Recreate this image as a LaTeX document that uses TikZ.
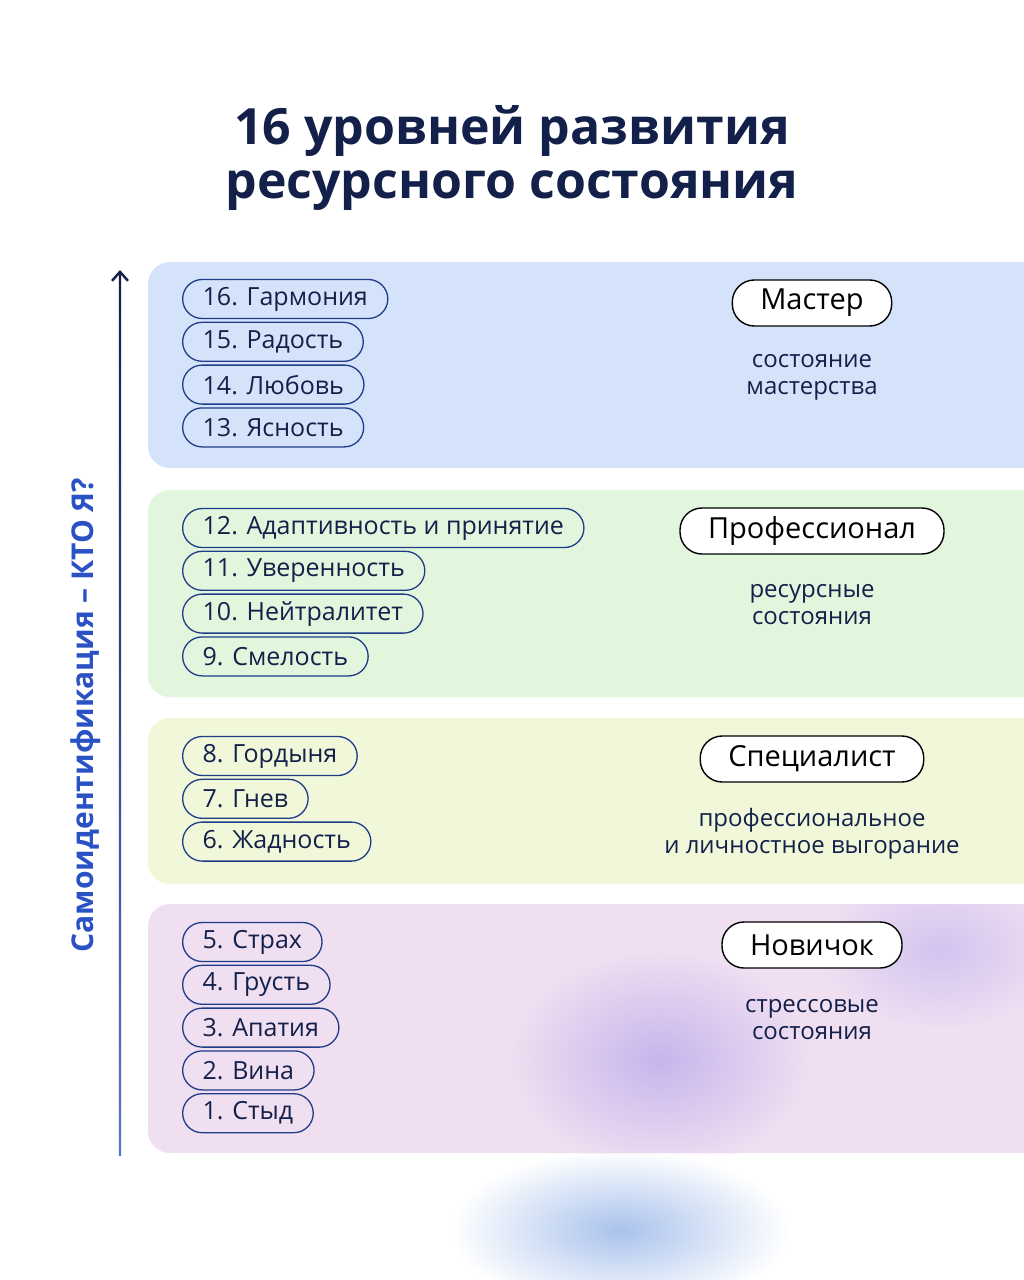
\documentclass[tikz,border=0pt]{standalone}
\usepackage{fontspec}
\setmainfont{Open Sans}
\usetikzlibrary{positioning,arrows.meta}
\definecolor{navy}{HTML}{13204A}
\definecolor{pillline}{HTML}{1F3C88}
\definecolor{axisblue}{HTML}{2B52C4}
\definecolor{bandblue}{HTML}{D5E3FA}
\definecolor{bandgreen}{HTML}{E2F6DD}
\definecolor{bandyellow}{HTML}{F1F8D9}
\definecolor{bandpink}{HTML}{F0DEF1}
\definecolor{blob}{HTML}{C6B5EC}
\definecolor{glow}{HTML}{A9C2EC}
\begin{document}
\begin{tikzpicture}[x=1pt,y=-1pt,
  band/.style={rounded corners=22pt},
  pill/.style={shape=rectangle, rounded corners=19.5pt, draw=pillline, line width=1.3pt,
    minimum height=39pt, inner xsep=20pt, inner ysep=0pt, text=navy, font=\fontsize{25}{27}\selectfont},
  level/.style={shape=rectangle, rounded corners=22pt, draw=black, line width=1.4pt, fill=white,
    minimum height=46pt, inner xsep=28pt, inner ysep=0pt, text=black, font=\fontsize{29}{32}\selectfont},
  note/.style={align=center, text=navy, font=\fontsize{24}{27}\selectfont}]
\useasboundingbox (0,0) rectangle (1024,1280);
\fill[white] (0,0) rectangle (1024,1280);
% bottom glow
\shade[inner color=glow, outer color=white] (620,1230) ellipse (170 and 80);
% title
\node (title) [text=navy, align=center, font=\fontsize{50}{54}\selectfont\bfseries] at (512,158)
  {16 уровней развития\\ресурсного состояния};
% bands
\fill[bandblue, band] (148,262) rectangle (1060,468);
\fill[bandgreen, band] (148,490) rectangle (1060,697);
\fill[bandyellow, band] (148,718) rectangle (1060,884);
\fill[bandpink, band] (148,904) rectangle (1060,1153);
\begin{scope}
  \clip[band] (148,904) rectangle (1060,1153);
  \shade[inner color=blob, outer color=bandpink] (660,1060) ellipse (150 and 110);
  \shade[inner color=blob!80, outer color=bandpink] (940,950) ellipse (120 and 80);
\end{scope}
% axis
\shade[bottom color=axisblue!80, top color=navy] (118.8,1155) rectangle (121.2,275);
\draw[navy, line width=2.4pt, -{Straight Barb[length=9pt,width=16pt]}] (120,290) -- (120,270);
\node (axis) [rotate=90, text=axisblue, font=\fontsize{30}{32}\selectfont\bfseries] at (86,715)
  {Самоидентификация – КТО Я?};
% master
\node (p16) [pill, anchor=west] at (182,299) {16. Гармония};
\node (p15) [pill, below=2.5pt of p16.south west, anchor=north west] {15. Радость};
\node (p14) [pill, below=2.5pt of p15.south west, anchor=north west] {14. Любовь};
\node (p13) [pill, below=2.5pt of p14.south west, anchor=north west] {13. Ясность};
\node (master) [level] at (812,303) {Мастер};
\node (masterNote) [note] at (812,377) {состояние\\мастерства};
% professional
\node (p12) [pill, anchor=west] at (182,528) {12. Адаптивность и принятие};
\node (p11) [pill, below=2.5pt of p12.south west, anchor=north west] {11. Уверенность};
\node (p10) [pill, below=2.5pt of p11.south west, anchor=north west] {10. Нейтралитет};
\node (p9) [pill, below=2.5pt of p10.south west, anchor=north west] {9. Смелость};
\node (pro) [level] at (812,531) {Профессионал};
\node (proNote) [note] at (812,605) {ресурсные\\состояния};
% specialist
\node (p8) [pill, anchor=west] at (182,756) {8. Гордыня};
\node (p7) [pill, below=2.5pt of p8.south west, anchor=north west] {7. Гнев};
\node (p6) [pill, below=2.5pt of p7.south west, anchor=north west] {6. Жадность};
\node (spec) [level] at (812,759) {Специалист};
\node (specNote) [note] at (812,834) {профессиональное\\и личностное выгорание};
% novice
\node (p5) [pill, anchor=west] at (182,942) {5. Страх};
\node (p4) [pill, below=2.5pt of p5.south west, anchor=north west] {4. Грусть};
\node (p3) [pill, below=2.5pt of p4.south west, anchor=north west] {3. Апатия};
\node (p2) [pill, below=2.5pt of p3.south west, anchor=north west] {2. Вина};
\node (p1) [pill, below=2.5pt of p2.south west, anchor=north west] {1. Стыд};
\node (novice) [level] at (812,945) {Новичок};
\node (noviceNote) [note] at (812,1020) {стрессовые\\состояния};
\end{tikzpicture}
\end{document}
